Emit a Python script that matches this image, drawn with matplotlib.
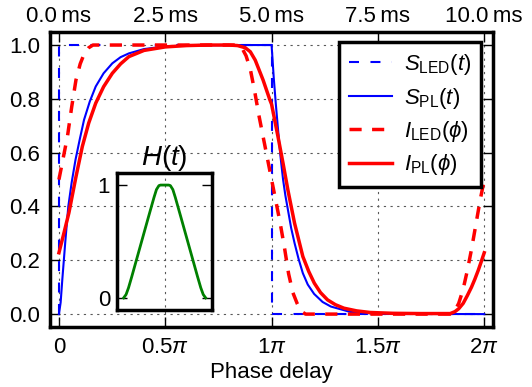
import numpy as np
import matplotlib.pyplot as plt

plt.rcParams['font.family'] = ['Liberation Sans', 'DejaVu Sans']
plt.rcParams['mathtext.fontset'] = 'custom'
plt.rcParams['mathtext.rm'] = 'Liberation Sans'
plt.rcParams['mathtext.it'] = 'Liberation Sans:italic'
plt.rcParams['mathtext.bf'] = 'Liberation Sans:bold'

# Phase delay in units of pi
sLedX = [0.0, 0.0, 1.0, 1.0, 2.0]
sLedY = [0.0, 1.0, 1.0, 0.0, 0.0]

sPlX = [0.0, 0.008, 0.016, 0.03, 0.044, 0.06, 0.078, 0.098, 0.118, 0.145, 0.173, 0.21,
        0.251, 0.29, 0.329, 0.40, 0.50, 0.65, 0.80, 1.0, 1.01, 1.02, 1.031, 1.042, 1.054,
        1.065, 1.077, 1.092, 1.108, 1.127, 1.147, 1.17, 1.20, 1.24, 1.279, 1.37, 1.50, 2.0]
sPlY = [0.0, 0.043, 0.13, 0.27, 0.40, 0.49, 0.574, 0.65, 0.722, 0.79, 0.846, 0.895,
        0.932, 0.955, 0.969, 0.985, 0.995, 0.999, 1.0, 1.0, 0.88, 0.78, 0.68, 0.585, 0.50,
        0.44, 0.387, 0.32, 0.264, 0.205, 0.152, 0.11, 0.075, 0.045, 0.028, 0.008, 0.001, 0.0]

iLedX = [0.0, 0.02, 0.04, 0.06, 0.08, 0.10, 0.12, 0.14, 0.16,
         0.84, 0.86, 0.88, 0.90, 0.92, 0.94, 0.96, 0.98, 1.00, 1.02, 1.04, 1.06, 1.08,
         1.10, 1.12, 1.14, 1.16,
         1.84, 1.86, 1.88, 1.90, 1.92, 1.94, 1.96, 1.98, 2.00]
iLedY = [0.50, 0.58, 0.66, 0.77, 0.87, 0.93, 0.97, 0.99, 1.00,
         1.00, 0.99, 0.96, 0.91, 0.83, 0.74, 0.66, 0.58, 0.50, 0.42, 0.34, 0.25, 0.15,
         0.08, 0.04, 0.01, 0.00,
         0.00, 0.01, 0.04, 0.09, 0.16, 0.24, 0.33, 0.42, 0.50]

iPlX = [0.0, 0.02, 0.047, 0.08, 0.11, 0.14, 0.173, 0.21, 0.251, 0.29, 0.329, 0.40, 0.50,
        0.60, 0.70, 0.80, 0.84, 0.876, 0.90, 0.923, 0.96, 0.992, 1.0, 1.03, 1.054, 1.077,
        1.108, 1.147, 1.175, 1.201, 1.23, 1.263, 1.30, 1.34, 1.40, 1.464, 1.57, 1.70, 1.84,
        1.862, 1.88, 1.901, 1.92, 1.94, 1.956, 1.972, 1.986, 2.0]
iPlY = [0.228, 0.29, 0.377, 0.51, 0.623, 0.71, 0.784, 0.845, 0.895, 0.93, 0.957, 0.98, 0.993,
        0.998, 1.0, 1.0, 0.998, 0.99, 0.975, 0.944, 0.87, 0.796, 0.78, 0.66, 0.56, 0.46,
        0.338, 0.214, 0.158, 0.115, 0.08, 0.053, 0.035, 0.022, 0.012, 0.006, 0.003, 0.002,
        0.002, 0.009, 0.02, 0.04, 0.068, 0.10, 0.13, 0.163, 0.195, 0.228]

# Inset kernel H(t), t normalised to [0, 1]
hX = [0.0, 0.03, 0.06, 0.10, 0.20, 0.30, 0.37, 0.40, 0.43, 0.45, 0.55, 0.57, 0.60, 0.63,
      0.70, 0.80, 0.90, 0.94, 0.97, 1.0]
hY = [0.0, 0.03, 0.09, 0.19, 0.45, 0.71, 0.89, 0.96, 0.995, 1.0, 1.0, 0.995, 0.96, 0.89,
      0.71, 0.45, 0.19, 0.09, 0.03, 0.0]

xTicks = [0, 0.5, 1, 1.5, 2]
xTickLabels = ['0', r'0.5$\pi$', r'1$\pi$', r'1.5$\pi$', r'2$\pi$']
msTickLabels = ['0.0\u2009ms', '2.5\u2009ms', '5.0\u2009ms', '7.5\u2009ms', '10.0\u2009ms']

fs = 16
spineW = 2.5

fig = plt.figure(figsize=(5.32, 3.87), dpi=100)
ax = fig.add_axes([0.094, 0.155, 0.833, 0.762])

ax.plot(sLedX, sLedY, color='#0000ff', lw=1.5, dashes=(4.8, 5.5), label=r'$S_{\mathrm{LED}}(t)$')
ax.plot(sPlX, sPlY, color='#0000ff', lw=1.5, label=r'$S_{\mathrm{PL}}(t)$')
ax.plot(iLedX, iLedY, color='#ff0000', lw=2.5, dashes=(3.5, 3.0), label=r'$I_{\mathrm{LED}}(\phi)$')
ax.plot(iPlX, iPlY, color='#ff0000', lw=2.5, label=r'$I_{\mathrm{PL}}(\phi)$')

ax.set_xlim(-0.042, 2.042)
ax.set_ylim(-0.048, 1.048)
ax.set_xticks(xTicks)
ax.set_xticklabels(xTickLabels)
ax.set_yticks([0, 0.2, 0.4, 0.6, 0.8, 1.0])
ax.set_yticklabels(['0.0', '0.2', '0.4', '0.6', '0.8', '1.0'])
ax.set_xlabel('Phase delay', fontsize=fs, labelpad=3)
ax.tick_params(direction='in', length=7, width=1, labelsize=fs, top=False, right=True, pad=7)
ax.grid(True, ls=(0, (2, 4)), color='0.35', lw=0.8)
for s in ax.spines.values():
    s.set_linewidth(spineW)

top = ax.twiny()
top.set_xlim(ax.get_xlim())
top.set_xticks(xTicks)
top.set_xticklabels(msTickLabels)
top.tick_params(direction='in', length=7, width=1, labelsize=fs, pad=4)

leg = ax.legend(loc='upper right', bbox_to_anchor=(0.973, 0.966), borderaxespad=0,
                fontsize=fs, fancybox=False, framealpha=1, edgecolor='k',
                handlelength=1.9, handletextpad=0.55, labelspacing=0.38, borderpad=0.45)
leg.get_frame().set_linewidth(spineW)

axIn = fig.add_axes([0.220, 0.199, 0.179, 0.354])
axIn.patch.set_alpha(0)
axIn.plot(hX, hY, color='#008000', lw=2)
axIn.set_xlim(-0.08, 1.08)
axIn.set_ylim(-0.107, 1.107)
axIn.set_xticks([])
axIn.set_yticks([0, 1])
axIn.tick_params(direction='in', length=7, width=1, labelsize=fs, right=True, pad=5)
axIn.set_title(r'$H(t)$', fontsize=20, pad=6)
for s in axIn.spines.values():
    s.set_linewidth(spineW)

plt.savefig('out.png', dpi=100)
